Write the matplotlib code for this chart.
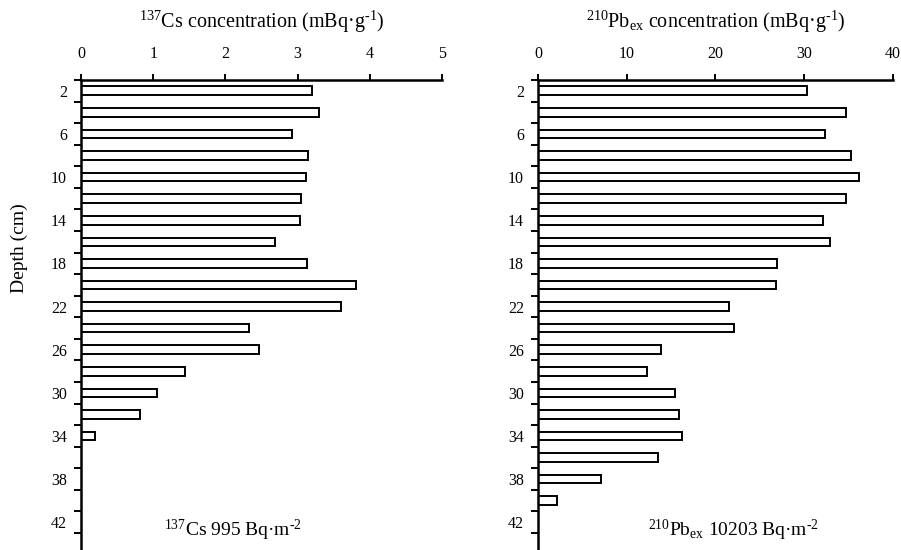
import matplotlib
matplotlib.use("Agg")
import matplotlib.pyplot as plt
import numpy as np

# depth of each 2 cm slice (bottom of slice), cm
depths = [2, 4, 6, 8, 10, 12, 14, 16, 18, 20, 22, 24, 26, 28, 30, 32, 34, 36, 38, 40, 42, 44]

# 137Cs concentration, mBq/g
cs_values = [3.20, 3.29, 2.92, 3.14, 3.11, 3.05, 3.03, 2.69, 3.13, 3.81, 3.60,
             2.32, 2.46, 1.44, 1.05, 0.82, 0.20, 0, 0, 0, 0, 0]

# 210Pb ex concentration, mBq/g
pb_values = [30.3, 34.7, 32.4, 35.3, 36.2, 34.7, 32.1, 32.9, 27.0, 26.8, 21.5,
             22.1, 13.9, 12.3, 15.4, 15.9, 16.2, 13.5, 7.1, 2.1, 0, 0]

cs_ticks = [0, 1, 2, 3, 4, 5]
pb_ticks = [0, 10, 20, 30, 40]

cs_title = r"$^{\mathrm{137}}$Cs concentration (mBq·g$^{\text{-1}}$)"
pb_title = r"$^{\mathrm{210}}$Pb$_{\mathrm{ex}}$ concentration (mBq·g$^{\text{-1}}$)"
cs_note = r"$^{\mathrm{137}}$Cs 995 Bq·m$^{\text{-2}}$"
pb_note = r"$^{\mathrm{210}}$Pb$_{\mathrm{ex}}$ 10203 Bq·m$^{\text{-2}}$"

plt.rcParams["font.family"] = ["Liberation Serif", "DejaVu Serif"]
plt.rcParams["mathtext.fontset"] = "custom"
plt.rcParams["mathtext.rm"] = "Liberation Serif"
plt.rcParams["mathtext.it"] = "Liberation Serif:italic"
plt.rcParams["mathtext.bf"] = "Liberation Serif:bold"

fig = plt.figure(figsize=(9.01, 5.5), dpi=100)
ax1 = fig.add_axes([0.0899, -0.0084, 0.4007, 0.8629])
ax2 = fig.add_axes([0.5971, -0.0084, 0.3936, 0.8629])


def draw_panel(ax, values, xticks, title, note, note_x):
    pos = np.arange(len(depths))
    ax.barh(pos, values, height=0.40, left=0, color="white",
            edgecolor="black", linewidth=1.4)
    ax.set_xlim(xticks[0], xticks[-1])
    ax.set_ylim(len(depths) - 0.5, -0.5)

    ax.xaxis.tick_top()
    ax.set_xticks(xticks)
    ax.tick_params(axis="x", direction="out", length=4, width=1.4,
                   labelsize=11.5, pad=9)

    # tick marks on slice boundaries, labels on every other slice
    ax.set_yticks(np.arange(-0.5, len(depths) + 0.5, 1))
    ax.set_yticklabels([])
    ax.set_yticks(pos[::2], minor=True)
    ax.set_yticklabels([str(d) for d in depths[::2]], minor=True)
    ax.tick_params(axis="y", which="major", direction="out", length=5, width=1.4)
    ax.tick_params(axis="y", which="minor", length=0, labelsize=11.5, pad=10)

    for side in ["right", "bottom"]:
        ax.spines[side].set_visible(False)
    for side in ["left", "top"]:
        ax.spines[side].set_linewidth(1.8)

    ax.text(0.5, 1.122, title, transform=ax.transAxes, ha="center",
            va="center", fontsize=14.5)
    ax.text(note_x, 0.052, note, transform=ax.transAxes, ha="center",
            va="center", fontsize=14)


draw_panel(ax1, cs_values, cs_ticks, cs_title, cs_note, 0.42)
draw_panel(ax2, pb_values, pb_ticks, pb_title, pb_note, 0.55)

fig.text(0.022, 0.548, "Depth (cm)", rotation=90, ha="center", va="center",
         fontsize=14)

fig.savefig("out.png", dpi=100)
